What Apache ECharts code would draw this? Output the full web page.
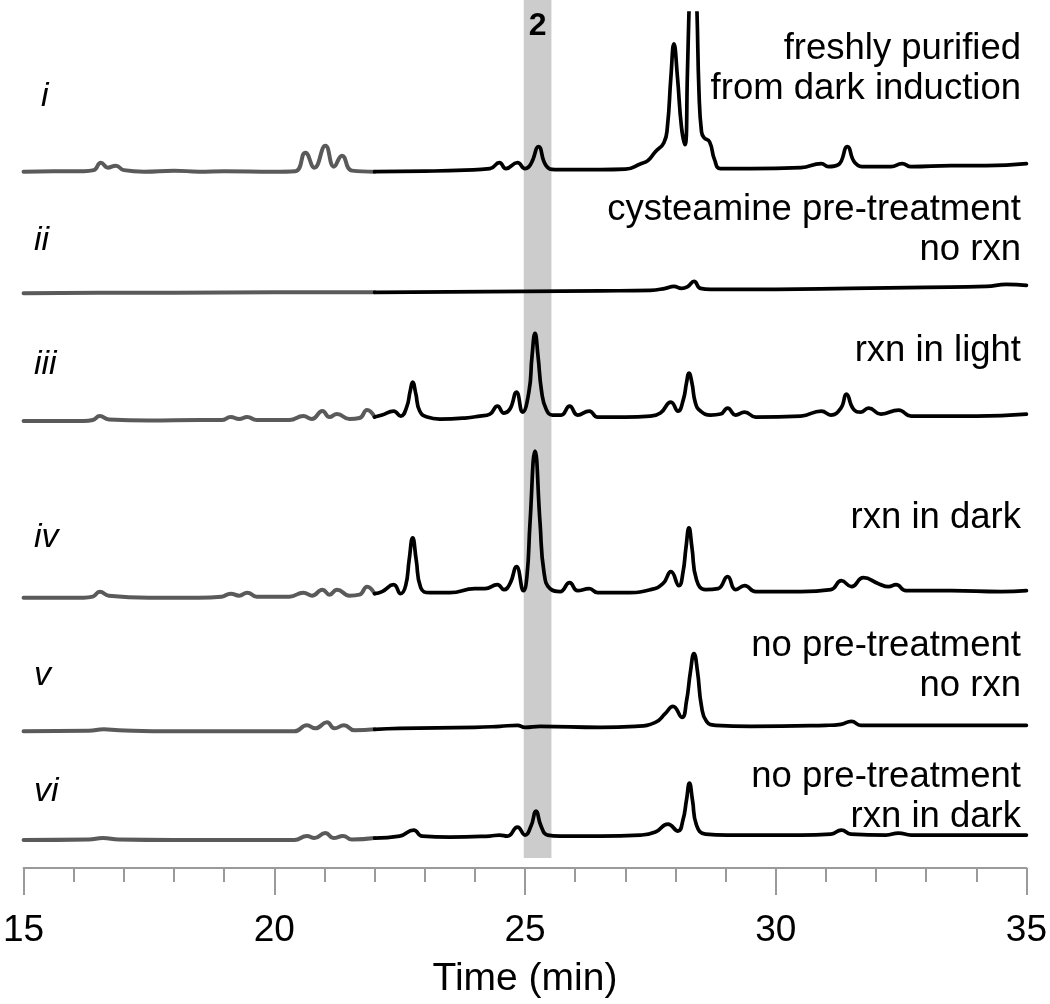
<!DOCTYPE html>
<html><head><meta charset="utf-8">
<script src="https://cdn.jsdelivr.net/npm/echarts@6/dist/echarts.min.js"></script>
<style>html,body{margin:0;padding:0;background:#fff}#c{width:1050px;height:1004px}</style>
</head><body><div id="c"></div><script>
// ---- data (time in min, signal height above each trace's own baseline, arbitrary units) ----
const traceIds = ['i', 'ii', 'iii', 'iv', 'v', 'vi'];
const traceNotes = [
  'freshly purified\nfrom dark induction',
  'cysteamine pre-treatment\nno rxn',
  'rxn in light',
  'rxn in dark',
  'no pre-treatment\nno rxn',
  'no pre-treatment\nrxn in dark'
];
const splitTime = 22;           // before this time the trace is drawn grey
const bandRange = [25.0, 25.55]; // highlighted retention window of compound 2
const bandLabel = '2';
const axisTitle = 'Time (min)';

const trace_i = [[15,0],[15.6,0.5],[16.2,0.5],[16.4,1.5],[16.54,9],[16.68,4],[16.84,6],[17.0,1.5],[17.4,0],[18.0,1],[18.5,0],[19.0,0.5],[20.0,0],[20.42,0.5],[20.62,19],[20.8,4],[21.02,26],[21.19,5],[21.35,16],[21.55,1],[22.0,0],
  [23.0,0.5],[23.8,1.5],[24.3,3],[24.49,9],[24.62,3],[24.85,9],[25.0,3],[25.12,8],[25.27,25],[25.42,6],[25.6,2],[26.5,2],[27.0,2.5],[27.31,8],[27.45,11],[27.6,20],[27.77,29],[27.84,45],[27.91,95],[27.97,128],[28.04,95],[28.12,45],[28.19,27],[28.24,100],[28.27,160],[28.35,280],[28.43,160],[28.47,80],[28.52,40],[28.57,34],[28.68,30],[28.78,12],[28.9,3],[29.5,3],[30.5,4],[30.91,8],[31.05,5],[31.25,7],[31.43,25],[31.58,9],[31.8,5],[32.3,5],[32.52,8],[32.7,5],[33.5,6],[34.2,6],[35,8]];
const trace_ii = [[15,0],[16.5,0.5],[18,0.5],[20,1],[22,1],[23.5,1.5],[25,2],[26.5,2.5],[27.5,3],[27.8,5],[27.97,7],[28.12,5],[28.25,7],[28.37,12],[28.5,5],[28.7,4],[30,4],[31.5,5],[33,6],[34.2,7],[34.6,9],[35,8]];
const trace_iii = [[15,0],[16.2,0],[16.38,1],[16.52,5],[16.7,1.5],[17.5,0.5],[18.5,1],[18.95,1],[19.13,4],[19.3,2],[19.46,4],[19.65,1],[20.3,1],[20.58,5],[20.75,2],[20.96,10],[21.1,4],[21.25,7],[21.5,2],[21.7,3],[21.85,11],[22.0,4],
  [22.15,6],[22.38,10],[22.52,5],[22.64,14],[22.71,30],[22.76,39],[22.82,28],[22.9,10],[23.05,4],[23.3,2],[23.8,3],[24.1,5],[24.3,7],[24.45,15],[24.58,8],[24.7,12],[24.83,29],[24.95,9],[25.08,30],[25.14,65],[25.2,88],[25.26,65],[25.33,30],[25.42,12],[25.55,6],[25.72,6],[25.89,15],[26.05,6],[26.28,10],[26.45,4],[27.0,4],[27.5,5],[27.7,8],[27.91,19],[28.05,10],[28.16,22],[28.22,38],[28.27,48],[28.33,38],[28.4,18],[28.5,10],[28.7,6],[28.9,7],[29.04,13],[29.2,6],[29.38,9],[29.6,4],[30.5,5],[30.91,10],[31.1,6],[31.3,13],[31.41,27],[31.55,12],[31.7,9],[31.85,13],[32.1,7],[32.45,11],[32.7,5],[34,5],[35,7]];
const trace_iv = [[15,0],[16.2,0],[16.38,1],[16.52,6],[16.7,2],[17.5,0],[18.5,0],[18.95,1],[19.13,4],[19.3,2],[19.46,5],[19.65,1],[20.3,1],[20.58,5],[20.75,2],[20.96,8],[21.1,3],[21.25,8],[21.5,2],[21.7,3],[21.85,11],[22.0,4],
  [22.15,6],[22.38,13],[22.52,4],[22.62,12],[22.69,38],[22.76,60],[22.83,38],[22.92,10],[23.1,5],[23.5,5],[24.0,9],[24.2,9],[24.45,13],[24.58,8],[24.7,14],[24.83,31],[24.97,7],[25.04,22],[25.1,75],[25.2,147],[25.3,75],[25.38,25],[25.5,9],[25.7,6],[25.89,15],[26.05,7],[26.28,9],[26.45,5],[27.0,5],[27.5,8],[27.75,14],[27.91,26],[28.07,12],[28.15,25],[28.21,50],[28.27,70],[28.33,50],[28.42,18],[28.6,8],[28.85,9],[29.04,21],[29.2,8],[29.38,12],[29.6,6],[30.5,6],[31.1,8],[31.31,17],[31.51,11],[31.75,20],[32.05,14],[32.25,11],[32.4,13],[32.6,7],[33.5,7],[34.5,6],[35,7]];
const trace_v = [[15,0],[16.3,0.5],[16.6,2],[16.9,1],[18,0],[20.4,0],[20.65,6],[20.82,3],[21.05,9],[21.2,3],[21.39,6],[21.6,1],[22.0,2],
  [22.5,3],[24.0,4],[24.5,5],[24.85,6],[25.0,4],[25.3,5],[26.5,4],[27.2,5],[27.6,9],[27.8,18],[27.95,25],[28.13,14],[28.22,30],[28.3,60],[28.37,78],[28.44,60],[28.52,25],[28.62,10],[28.8,6],[29.5,5],[31.0,6],[31.3,7],[31.51,10],[31.7,6],[33,6],[35,6]];
const trace_vi = [[15,0],[16.3,0.5],[16.58,2],[16.9,0.5],[18,0],[20.4,0],[20.65,4],[20.8,2],[21.02,7],[21.18,2],[21.37,4],[21.55,0.5],[22.0,2],
  [22.5,4],[22.78,10],[22.95,4],[23.5,3],[24.3,4],[24.49,5],[24.65,4],[24.85,13],[25.0,5],[25.12,14],[25.22,29],[25.32,14],[25.45,5],[25.7,4],[26.5,4],[27.3,5],[27.6,8],[27.85,16],[28.05,9],[28.15,20],[28.22,40],[28.28,57],[28.34,40],[28.42,15],[28.6,6],[29.04,5],[30.5,5],[31.1,6],[31.31,10],[31.5,6],[32.2,5],[32.45,7],[32.7,5],[34,5],[35,5]];
const traces = [trace_i, trace_ii, trace_iii, trace_iv, trace_v, trace_vi];

// ---- layout (stacking offsets, label placement) ----
const stackOffset = [698, 576, 448, 271, 137, 28];
const idY = [97, 241, 365, 538, 676, 792];
const noteY = [69, 230, 351, 518, 666, 797];
const FONT = '"Liberation Sans", Arial, Helvetica, sans-serif';

const chart = echarts.init(document.getElementById('c'), null, {renderer: 'canvas'});
const series = [];
series.push({
  type: 'line', xAxisIndex: 0, yAxisIndex: 0, data: [], silent: true,
  markArea: {
    silent: true,
    itemStyle: {color: '#cccccc'},
    label: {show: true, position: 'insideTop', distance: 10, color: '#000', fontWeight: 'bold', fontSize: 32, fontFamily: FONT},
    data: [[{xAxis: bandRange[0], yAxis: 0, name: bandLabel}, {xAxis: bandRange[1], yAxis: 1}]]
  }
});
traces.forEach((pts, k) => {
  const off = stackOffset[k];
  const grey = pts.filter(p => p[0] <= splitTime).map(p => [p[0], p[1] + off]);
  const black = pts.filter(p => p[0] >= splitTime).map(p => [p[0], p[1] + off]);
  const common = {type: 'line', xAxisIndex: 1, yAxisIndex: 1, showSymbol: false, symbol: 'none', smooth: 0.5, clip: true, silent: true, z: 3};
  series.push(Object.assign({}, common, {data: grey, lineStyle: {color: '#5a5a5a', width: 4, join: 'round', cap: 'round'}}));
  series.push(Object.assign({}, common, {data: black, lineStyle: {color: '#000', width: 3.7, join: 'round', cap: 'round'}}));
});

const graphics = [];
traceIds.forEach((id, k) => {
  graphics.push({type: 'text', left: k === 0 ? 41 : 34, top: idY[k] - 17, style: {text: id, fontSize: 34, fontStyle: 'italic', fontFamily: FONT, fill: '#000'}});
  graphics.push({type: 'text', x: 1021, y: noteY[k], style: {text: traceNotes[k], fontSize: 36.5, lineHeight: 40, fontFamily: FONT, fill: '#000', align: 'right', verticalAlign: 'middle'}});
});

chart.setOption({
  animation: false,
  backgroundColor: '#fff',
  grid: [
    {left: 20.5, right: 23, top: 0, bottom: 146},
    {left: 20.5, right: 23, top: 13, bottom: 134}
  ],
  xAxis: [
    {gridIndex: 0, type: 'value', min: 15, max: 35, show: false},
    {gridIndex: 1, type: 'value', min: 15, max: 35, interval: 5,
     axisLine: {show: true, lineStyle: {color: '#9a9a9a', width: 2}},
     axisTick: {show: true, length: 27, lineStyle: {color: '#9a9a9a', width: 2}},
     minorTick: {show: true, splitNumber: 5, length: 14, lineStyle: {color: '#9a9a9a', width: 2}},
     splitLine: {show: false},
     axisLabel: {color: '#000', fontSize: 37, fontFamily: FONT, margin: 44},
     name: axisTitle, nameLocation: 'middle', nameGap: 92,
     nameTextStyle: {color: '#000', fontSize: 39, fontFamily: FONT}}
  ],
  yAxis: [
    {gridIndex: 0, type: 'value', min: 0, max: 1, show: false},
    {gridIndex: 1, type: 'value', min: 0, max: 857, show: false}
  ],
  graphic: graphics,
  series: series
});
</script></body></html>
